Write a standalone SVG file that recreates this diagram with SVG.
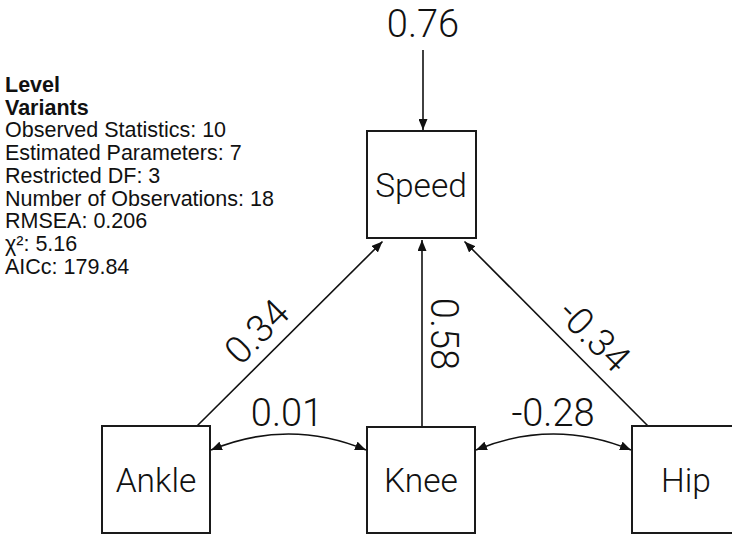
<svg xmlns="http://www.w3.org/2000/svg" width="732" height="534" viewBox="0 0 732 534">
<style>
.box{fill:#fff;stroke:#1a1a1a;stroke-width:2}
.nt{font-family:Roboto,"Liberation Sans",Arial,sans-serif;font-weight:300;font-size:33.5px;fill:#111;text-anchor:middle}
.lb{font-family:Roboto,"Liberation Sans",Arial,sans-serif;font-weight:300;font-size:38px;fill:#111;text-anchor:middle}
.ln{fill:none;stroke:#111;stroke-width:1.6}
.info{font-family:"Liberation Sans",Arial,sans-serif;font-size:21.5px;fill:#111}
.b{font-weight:bold}
</style>
<defs>
<marker id="ah" viewBox="0 0 11 9" refX="11" refY="4.5" markerWidth="11" markerHeight="9" markerUnits="userSpaceOnUse" orient="auto-start-reverse">
<path d="M0,0 L11,4.5 L0,9 z" fill="#111"/>
</marker>
</defs>
<g id="info">
<text class="info b" x="5" y="92">Level</text>
<text class="info b" x="5" y="114.7">Variants</text>
<text class="info" x="5" y="137.4">Observed Statistics: 10</text>
<text class="info" x="5" y="160.1">Estimated Parameters: 7</text>
<text class="info" x="5" y="182.8">Restricted DF: 3</text>
<text class="info" x="5" y="205.5">Number of Observations: 18</text>
<text class="info" x="5" y="228.2">RMSEA: 0.206</text>
<text class="info" x="5" y="250.9">χ²: 5.16</text>
<text class="info" x="5" y="273.6">AICc: 179.84</text>
</g>
<g id="connectors">
<path class="ln" d="M423,50 L423,130" marker-end="url(#ah)"/>
<path class="ln" d="M197,426 L382.5,241.5" marker-end="url(#ah)"/>
<path class="ln" d="M422,427 L422,240" marker-end="url(#ah)"/>
<path class="ln" d="M648,426 L464.5,241.5" marker-end="url(#ah)"/>
<path class="ln" d="M211,450 Q288.5,418 366,450" marker-start="url(#ah)" marker-end="url(#ah)"/>
<path class="ln" d="M476,450 Q553.5,418 631,450" marker-start="url(#ah)" marker-end="url(#ah)"/>
<text class="lb" x="423" y="37">0.76</text>
<text class="lb" x="266" y="341" transform="rotate(-45 266 341)">0.34</text>
<text class="lb" x="431" y="334" transform="rotate(90 431 334)">0.58</text>
<text class="lb" x="585" y="345" transform="rotate(45 585 345)">-0.34</text>
<text class="lb" x="287" y="426">0.01</text>
<text class="lb" x="553" y="426">-0.28</text>
</g>
<g id="speed">
<rect class="box" x="367" y="131" width="109" height="107"/>
<text class="nt" x="421" y="197">Speed</text>
</g>
<g id="ankle">
<rect class="box" x="102" y="426" width="108" height="107"/>
<text class="nt" x="156" y="492">Ankle</text>
</g>
<g id="knee">
<rect class="box" x="367" y="427" width="108" height="106"/>
<text class="nt" x="421" y="492">Knee</text>
</g>
<g id="hip">
<rect class="box" x="632" y="426" width="108" height="107"/>
<text class="nt" x="686" y="492">Hip</text>
</g>
</svg>
